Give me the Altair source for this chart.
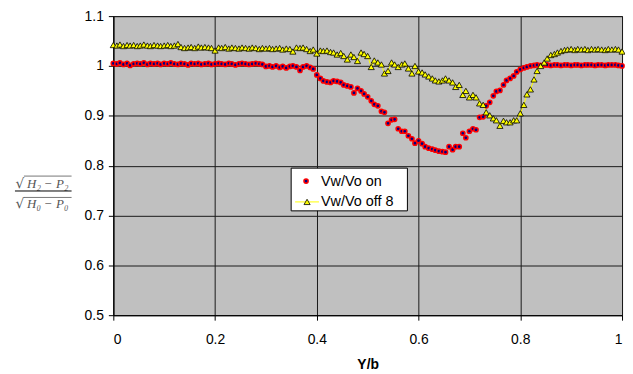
import altair as alt
import pandas as pd

Y_B = [
    0.000, 0.007, 0.013, 0.020, 0.027, 0.033, 0.040, 0.047, 0.053, 0.060, 0.067, 0.073, 0.080, 0.087, 0.093,
    0.100, 0.107, 0.113, 0.120, 0.127, 0.133, 0.140, 0.147, 0.153, 0.160, 0.167, 0.173, 0.180, 0.187, 0.193,
    0.200, 0.207, 0.213, 0.220, 0.227, 0.233, 0.240, 0.247, 0.253, 0.260, 0.267, 0.273, 0.280, 0.287, 0.293,
    0.300, 0.307, 0.313, 0.320, 0.327, 0.333, 0.340, 0.347, 0.353, 0.360, 0.367, 0.373, 0.380, 0.387, 0.393,
    0.400, 0.407, 0.413, 0.420, 0.427, 0.433, 0.440, 0.447, 0.453, 0.460, 0.467, 0.473, 0.480, 0.487, 0.493,
    0.500, 0.507, 0.513, 0.520, 0.527, 0.533, 0.540, 0.547, 0.553, 0.560, 0.567, 0.573, 0.580, 0.587, 0.593,
    0.600, 0.607, 0.613, 0.620, 0.627, 0.633, 0.640, 0.647, 0.653, 0.660, 0.667, 0.673, 0.680, 0.687, 0.693,
    0.700, 0.707, 0.713, 0.720, 0.727, 0.733, 0.740, 0.747, 0.753, 0.760, 0.767, 0.773, 0.780, 0.787, 0.793,
    0.800, 0.807, 0.813, 0.820, 0.827, 0.833, 0.840, 0.847, 0.853, 0.860, 0.867, 0.873, 0.880, 0.887, 0.893,
    0.900, 0.907, 0.913, 0.920, 0.927, 0.933, 0.940, 0.947, 0.953, 0.960, 0.967, 0.973, 0.980, 0.987, 0.993,
    1.000,
]

VW_ON = [
    1.005, 1.004, 1.006, 1.003, 1.005, 1.001, 1.004, 1.005, 1.004, 1.006, 1.003, 1.005, 1.004, 1.005, 1.003,
    1.005, 1.004, 1.006, 1.004, 1.003, 1.005, 1.004, 1.002, 1.005, 1.004, 1.005, 1.003, 1.004, 1.005, 1.003,
    1.004, 1.005, 1.004, 1.003, 1.005, 1.004, 1.002, 1.004, 1.005, 1.004, 1.003, 1.004, 1.005, 1.004, 1.003,
    0.999, 1.000, 0.998, 1.000, 0.997, 0.999, 0.996, 0.999, 1.000, 0.998, 0.991, 0.998, 1.000, 0.997, 0.994,
    0.982, 0.975, 0.970, 0.968, 0.967, 0.970, 0.969, 0.967, 0.962, 0.960, 0.958, 0.946, 0.955, 0.950, 0.944,
    0.938, 0.930, 0.923, 0.920, 0.909, 0.907, 0.885, 0.892, 0.893, 0.874, 0.869, 0.869, 0.860, 0.854, 0.845,
    0.850, 0.844, 0.838, 0.835, 0.833, 0.831, 0.829, 0.828, 0.827, 0.838, 0.832, 0.838, 0.838, 0.865, 0.856,
    0.869, 0.874, 0.872, 0.897, 0.898, 0.920, 0.927, 0.940, 0.949, 0.951, 0.962, 0.971, 0.975, 0.980, 0.988,
    0.993, 0.996, 0.998, 1.000, 1.001, 1.002, 1.001, 1.002, 1.002, 1.001, 1.002, 1.002, 1.001, 1.002, 1.002,
    1.001, 1.002, 1.002, 1.001, 1.002, 1.002, 1.002, 1.001, 1.002, 1.002, 1.001, 1.002, 1.002, 1.002, 1.001,
    1.000,
]

VW_OFF8 = [
    1.042, 1.041, 1.043, 1.040, 1.042, 1.041, 1.042, 1.040, 1.041, 1.043, 1.041, 1.040, 1.042, 1.041, 1.040,
    1.041, 1.042, 1.040, 1.041, 1.044, 1.038, 1.036, 1.037, 1.038, 1.036, 1.039, 1.037, 1.038, 1.037, 1.036,
    1.031, 1.037, 1.036, 1.038, 1.035, 1.037, 1.036, 1.035, 1.037, 1.036, 1.035, 1.037, 1.036, 1.034, 1.036,
    1.035, 1.036, 1.034, 1.035, 1.036, 1.033, 1.035, 1.034, 1.029, 1.037, 1.036, 1.037, 1.034, 1.030, 1.033,
    1.025, 1.031, 1.030, 1.031, 1.028, 1.027, 1.023, 1.026, 1.020, 1.013, 1.023, 1.018, 1.010, 1.027, 1.024,
    1.020, 0.998, 1.011, 1.007, 1.003, 0.985, 0.990, 1.007, 1.003, 0.998, 1.003, 1.005, 0.995, 0.985, 1.000,
    0.989, 0.987, 0.983, 0.979, 0.975, 0.971, 0.969, 0.971, 0.975, 0.971, 0.967, 0.958, 0.962, 0.942, 0.950,
    0.937, 0.942, 0.937, 0.925, 0.922, 0.907, 0.901, 0.895, 0.891, 0.880, 0.890, 0.887, 0.887, 0.891, 0.891,
    0.905, 0.922, 0.943, 0.953, 0.973, 0.990, 1.000, 1.007, 1.015, 1.022, 1.024, 1.027, 1.030, 1.032, 1.033,
    1.034, 1.032, 1.034, 1.033, 1.034, 1.032, 1.034, 1.033, 1.034, 1.033, 1.032, 1.034, 1.033, 1.034, 1.033,
    1.029,
]

X_TICKS = [0, 0.2, 0.4, 0.6, 0.8, 1]
Y_TICKS = [0.5, 0.6, 0.7, 0.8, 0.9, 1.0, 1.1]
SERIES = ["Vw/Vo on", "Vw/Vo off 8"]
X_TITLE = "Y/b"
Y_NUM = "H₂  −  P₂"
Y_DEN = "H₀  −  P₀"

df = pd.DataFrame({"x": Y_B, "on": VW_ON, "off": VW_OFF8})

xs = alt.X("x:Q", scale=alt.Scale(domain=[0, 1], nice=False, zero=False),
           axis=alt.Axis(values=X_TICKS, format=".1~f", title=X_TITLE, grid=True,
                         titleFontWeight="bold", titlePadding=11, labelPadding=13))
ys_axis = alt.Axis(values=Y_TICKS, format=".1~f", title=None, grid=True, labelPadding=5)
yscale = alt.Scale(domain=[0.5, 1.1], nice=False, zero=False)

base = alt.Chart(df)

red = base.mark_point(shape="circle", filled=True, fill="#000080", stroke="#FF0000",
                      strokeWidth=1.5, size=18, opacity=1).encode(
    x=xs, y=alt.Y("on:Q", scale=yscale, axis=ys_axis))

yline = base.mark_line(color="#FFFF00", strokeWidth=1).encode(
    x="x:Q", y=alt.Y("off:Q", scale=yscale))

ytri = base.mark_point(shape="triangle-up", filled=True, fill="#FFFF00", stroke="#000000",
                       strokeWidth=0.8, size=38, opacity=1).encode(
    x="x:Q", y=alt.Y("off:Q", scale=yscale))

one = alt.Data(values=[{"a": 1}])

leg_box = alt.Chart(one).mark_rect(fill="white", stroke="#000000", strokeWidth=1).encode(
    x=alt.value(179), x2=alt.value(296), y=alt.value(153), y2=alt.value(196))
leg_dot = alt.Chart(one).mark_point(shape="circle", filled=True, fill="#000080", stroke="#FF0000",
                                    strokeWidth=1.5, size=18, opacity=1).encode(
    x=alt.value(194), y=alt.value(166))
leg_line = alt.Chart(one).mark_rule(color="#FFFF00", strokeWidth=1).encode(
    x=alt.value(183), x2=alt.value(207), y=alt.value(187))
leg_tri = alt.Chart(one).mark_point(shape="triangle-up", filled=True, fill="#FFFF00", stroke="#000000",
                                    strokeWidth=0.8, size=38, opacity=1).encode(
    x=alt.value(195), y=alt.value(187))
leg_t1 = alt.Chart(one).mark_text(align="left", baseline="middle", font="Liberation Sans",
                                  fontSize=14.5, color="black").encode(
    x=alt.value(209), y=alt.value(166.5), text=alt.value(SERIES[0]))
leg_t2 = alt.Chart(one).mark_text(align="left", baseline="middle", font="Liberation Sans",
                                  fontSize=14.5, color="black").encode(
    x=alt.value(209), y=alt.value(187.5), text=alt.value(SERIES[1]))

# y-axis title drawn as a fraction of square roots
frac_col = "#555555"
num_sqrt = alt.Chart(one).mark_text(align="center", baseline="middle", font="DejaVu Serif",
                                    fontSize=14, color=frac_col).encode(
    x=alt.value(-94), y=alt.value(168.5), text=alt.value("√"))
num_txt = alt.Chart(one).mark_text(align="center", baseline="middle", font="Liberation Serif",
                                   fontSize=13, fontStyle="italic", color=frac_col).encode(
    x=alt.value(-66), y=alt.value(168.5), text=alt.value(Y_NUM))
num_bar = alt.Chart(one).mark_rule(color=frac_col, strokeWidth=0.8).encode(
    x=alt.value(-90), x2=alt.value(-42), y=alt.value(161))
frac_bar = alt.Chart(one).mark_rule(color="#000000", strokeWidth=1).encode(
    x=alt.value(-99), x2=alt.value(-42), y=alt.value(176))
den_sqrt = alt.Chart(one).mark_text(align="center", baseline="middle", font="DejaVu Serif",
                                    fontSize=14, color=frac_col).encode(
    x=alt.value(-94), y=alt.value(189.5), text=alt.value("√"))
den_txt = alt.Chart(one).mark_text(align="center", baseline="middle", font="Liberation Serif",
                                   fontSize=13, fontStyle="italic", color=frac_col).encode(
    x=alt.value(-66), y=alt.value(189.5), text=alt.value(Y_DEN))
den_bar = alt.Chart(one).mark_rule(color=frac_col, strokeWidth=0.8).encode(
    x=alt.value(-90), x2=alt.value(-42), y=alt.value(182.5))

chart = alt.layer(
    red, yline, ytri,
    leg_box, leg_dot, leg_line, leg_tri, leg_t1, leg_t2,
    num_sqrt, num_txt, num_bar, frac_bar, den_sqrt, den_txt, den_bar,
).properties(
    width=512, height=301,
    autosize=alt.AutoSizeParams(type="none"),
    padding={"left": 106, "top": 7, "right": 3, "bottom": 55},
    background="white",
).configure_view(
    fill="#C0C0C0", stroke="#333333", strokeWidth=1,
).configure_axis(
    domainColor="#000000", tickColor="#000000", tickSize=5,
    gridColor="#1a1a1a", gridWidth=1, gridOpacity=1,
    labelFont="Liberation Sans", labelFontSize=14, labelColor="#000000",
    titleFont="Liberation Sans", titleFontSize=14, titleColor="#000000",
)

chart.save("out.html", embed_options={"renderer": "svg", "actions": False})
